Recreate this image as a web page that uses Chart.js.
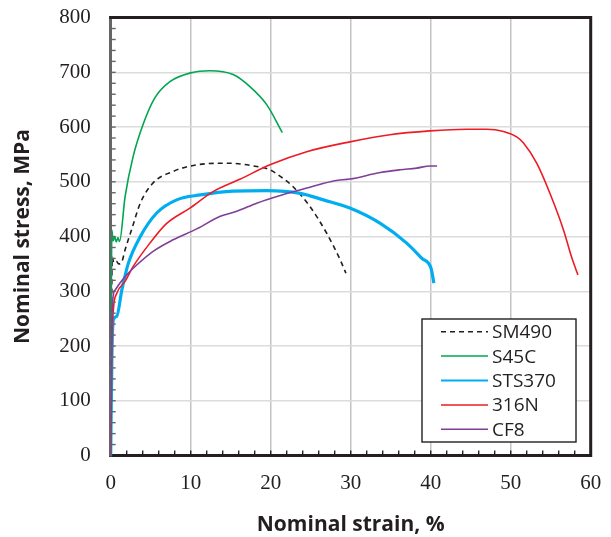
<!DOCTYPE html>
<html>
<head>
<meta charset="utf-8">
<script src="https://cdn.jsdelivr.net/npm/chart.js@4.4.1/dist/chart.umd.min.js"></script>
<style>
  html, body { margin: 0; padding: 0; background: #ffffff; }
  #wrap { width: 611px; height: 537px; }
</style>
</head>
<body>
<div id="wrap"><canvas id="chart" width="611" height="537"></canvas></div>
<script>
// Series (strain in %, stress in MPa)
const seriesNames = ['SM490', 'S45C', 'STS370', '316N', 'CF8'];

const sm490Strain = [0, 0.1, 0.2, 0.4, 0.7, 1.0, 1.4, 1.8, 2.6, 3.7, 5.3, 7.8, 10.75, 14.5, 18.25, 19.9, 21.2, 22.8, 24.9, 27.0, 28.7, 29.4];
const sm490Stress = [0, 250, 362, 352, 355, 350, 354, 376, 412, 461, 498, 519, 531, 534, 528, 522, 510, 491, 455, 406, 357, 333];

const s45cStrain = [0, 0.08, 0.15, 0.3, 0.5, 0.7, 0.9, 1.1, 1.8, 2.8, 4.1, 5.5, 7.4, 10, 12.4, 15.3, 17.4, 19.5, 21.45];
const s45cStress = [0, 300, 412, 392, 400, 390, 398, 391, 473, 546, 607, 653, 683, 699, 703, 696, 674, 641, 590];

const sts370Strain = [0, 0.15, 0.33, 0.75, 1.4, 2.2, 3.7, 5.75, 8.25, 11.2, 15.3, 19.5, 23.7, 26.6, 29.9, 33.7, 37, 38.9, 40.04, 40.4];
const sts370Stress = [0, 180, 248, 254, 303, 351, 400, 443, 467, 476, 483, 484, 479, 467, 452, 424, 388, 360, 342, 315];

const n316Strain = [0, 0.15, 0.33, 0.75, 1.8, 2.8, 4.9, 7, 9.9, 12.8, 16.2, 19.9, 24.5, 29.9, 34.9, 39.9, 44.5, 47, 49.1, 50.75, 51.6, 53.25, 54.9, 56.6, 57.6, 58.4];
const n316Stress = [0, 200, 266, 296, 318, 345, 388, 424, 452, 482, 505, 531, 555, 573, 586, 593, 596, 596, 592, 582, 571, 534, 479, 412, 363, 330];

const cf8Strain = [0, 0.1, 0.3, 0.54, 1.16, 2, 3.25, 5.3, 7.8, 10.75, 13.7, 15.75, 18.25, 21.4, 24.9, 28, 29.9, 33.7, 36.2, 38.25, 39.9, 40.8];
const cf8Stress = [0, 200, 290, 302, 315, 330, 348, 373, 394, 414, 437, 446, 461, 476, 490, 502, 505, 517, 522, 525, 529, 529];

const xTicks = [0, 10, 20, 30, 40, 50, 60];
const yTicks = [0, 100, 200, 300, 400, 500, 600, 700, 800];

const ink = '#231f20';

const toPoints = (xs, ys) => xs.map((x, i) => ({ x: x, y: ys[i] }));

// Excel-like series with the last one on top
const datasets = [
    { label: 'SM490', data: toPoints(sm490Strain, sm490Stress), borderColor: '#231f20', borderWidth: 1.6, borderDash: [5, 4], order: 4 },
    { label: 'S45C', data: toPoints(s45cStrain, s45cStress), borderColor: '#00a651', borderWidth: 1.6, order: 3 },
    { label: 'STS370', data: toPoints(sts370Strain, sts370Stress), borderColor: '#00aeef', borderWidth: 3.2, order: 2 },
    { label: '316N', data: toPoints(n316Strain, n316Stress), borderColor: '#ed1c24', borderWidth: 1.6, order: 1 },
    { label: 'CF8', data: toPoints(cf8Strain, cf8Stress), borderColor: '#7f3f98', borderWidth: 1.6, order: 0 }
].map(d => Object.assign(d, { showLine: true, pointRadius: 0, fill: false, cubicInterpolationMode: 'monotone' }));

// Frame on top/right plus minor tick marks inside the plot
const framePlugin = {
    id: 'frame',
    afterDraw(chart) {
        const { ctx, chartArea: a, scales: { x, y } } = chart;
        ctx.save();
        ctx.strokeStyle = ink;
        ctx.lineWidth = 1.4;
        for (let v = 2; v < 60; v += 2) {
            const px = x.getPixelForValue(v);
            ctx.beginPath();
            ctx.moveTo(px, a.bottom);
            ctx.lineTo(px, a.bottom - 5);
            ctx.stroke();
        }
        ctx.strokeStyle = '#666666';
        for (let v = 20; v < 800; v += 20) {
            const py = y.getPixelForValue(v);
            ctx.beginPath();
            ctx.moveTo(a.left, py);
            ctx.lineTo(a.left + 5, py);
            ctx.stroke();
        }
        ctx.strokeStyle = ink;
        ctx.lineWidth = 3;
        ctx.beginPath();
        ctx.moveTo(a.left - 1.5, a.top);
        ctx.lineTo(a.right, a.top);
        ctx.lineTo(a.right, a.bottom + 1.5);
        ctx.stroke();
        ctx.restore();
    }
};

// Boxed legend sitting in the lower right of the plot
const boxLegend = {
    id: 'boxLegend',
    afterDraw(chart) {
        const { ctx } = chart;
        ctx.save();
        ctx.fillStyle = '#ffffff';
        ctx.fillRect(422, 319, 154, 123);
        ctx.strokeStyle = ink;
        ctx.lineWidth = 1.4;
        ctx.strokeRect(422, 319, 154, 123);
        ctx.font = '19px "Open Sans"';
        ctx.textBaseline = 'middle';
        chart.data.datasets.forEach((ds, i) => {
            const cy = 331.7 + i * 24.4;
            ctx.strokeStyle = ds.borderColor;
            ctx.lineWidth = i === 2 ? 2 : 1.5;
            ctx.setLineDash(ds.borderDash || []);
            ctx.beginPath();
            ctx.moveTo(441, cy);
            ctx.lineTo(488, cy);
            ctx.stroke();
            ctx.setLineDash([]);
            ctx.fillStyle = ink;
            ctx.fillText(ds.label, 492, cy + 1);
        });
        ctx.restore();
    }
};

new Chart(document.getElementById('chart'), {
    type: 'scatter',
    data: { datasets: datasets },
    options: {
        responsive: false,
        animation: false,
        layout: { padding: { top: 17.6, right: 20.3, left: 0, bottom: 0 } },
        plugins: {
            legend: { display: false },
            tooltip: { enabled: false }
        },
        scales: {
            x: {
                type: 'linear',
                min: 0,
                max: 60,
                afterBuildTicks: (s) => { s.ticks = xTicks.map(v => ({ value: v })); },
                afterFit: (s) => { s.height = 81.5; s.paddingLeft = 0; s.paddingRight = 0; },
                grid: { color: '#c4c4c4', lineWidth: 1.5, drawTicks: false },
                border: { color: ink, width: 3 },
                ticks: {
                    padding: 17,
                    color: ink,
                    font: { family: '"Liberation Serif"', size: 21, lineHeight: 1 },
                    maxRotation: 0
                },
                title: {
                    display: true,
                    text: 'Nominal strain, %',
                    color: ink,
                    padding: { top: 0, bottom: 1 },
                    font: { family: '"Open Sans"', size: 21, weight: 'bold', lineHeight: 1 }
                }
            },
            y: {
                type: 'linear',
                min: 0,
                max: 800,
                afterBuildTicks: (s) => { s.ticks = yTicks.map(v => ({ value: v })); },
                afterFit: (s) => { s.width = 110.7; s.paddingTop = 0; s.paddingBottom = 0; },
                grid: { color: '#dcdcdc', lineWidth: 1.5, drawTicks: false },
                border: { color: '#666666', width: 3 },
                ticks: {
                    padding: 20,
                    color: ink,
                    font: { family: '"Liberation Serif"', size: 21, lineHeight: 1 }
                },
                title: {
                    display: true,
                    text: 'Nominal stress, MPa',
                    color: ink,
                    padding: { top: 12.5, bottom: 0 },
                    font: { family: '"Open Sans"', size: 21, weight: 'bold', lineHeight: 1 }
                }
            }
        }
    },
    plugins: [framePlugin, boxLegend]
});
</script>
</body>
</html>
